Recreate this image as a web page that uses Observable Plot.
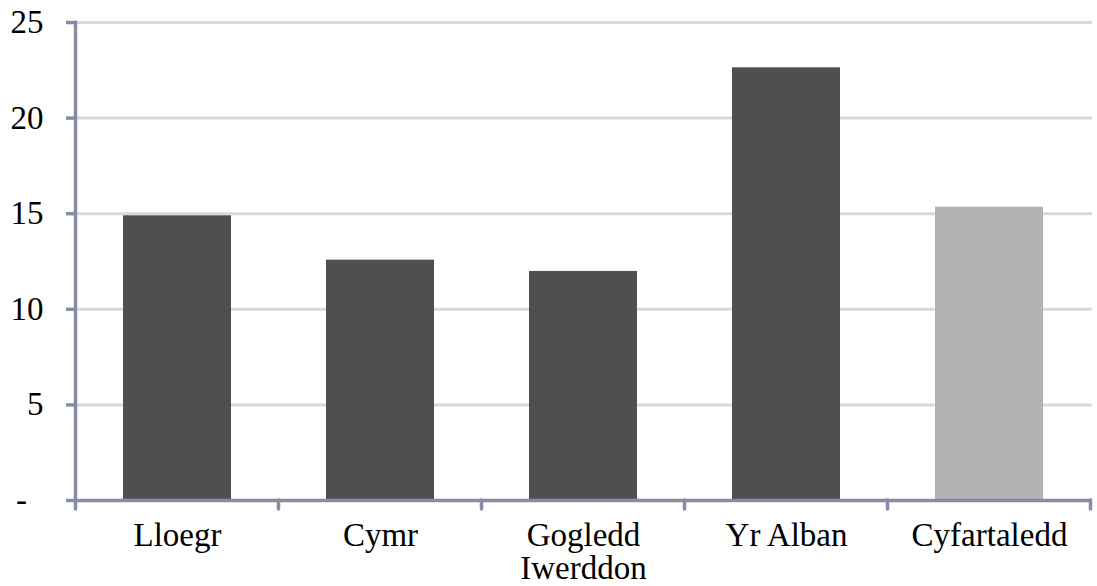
<!DOCTYPE html>
<html>
<head>
<meta charset="utf-8">
<script src="https://cdn.jsdelivr.net/npm/d3@7"></script>
<script src="https://cdn.jsdelivr.net/npm/@observablehq/plot@0.6"></script>
<style>
  html, body { margin: 0; padding: 0; background: #fff; }
  #chart svg { display: block; }
</style>
</head>
<body>
<div id="chart"></div>
<script>
const categories = ["Lloegr", "Cymr", "Gogledd\nIwerddon", "Yr Alban", "Cyfartaledd"];
const values = [14.89, 12.57, 11.98, 22.63, 15.34];
const highlight = [false, false, false, false, true];
const yTicks = [0, 5, 10, 15, 20, 25];

const data = categories.map((c, i) => ({cat: c, value: values[i], avg: highlight[i]}));

const axisColor = "#878ba3";
const font = "'Liberation Serif', 'Times New Roman', serif";

const chart = Plot.plot({
  width: 1097,
  height: 586,
  marginLeft: 74,
  marginRight: 5,
  marginTop: 22,
  marginBottom: 86,
  style: {fontFamily: font, fontSize: "33px", color: "#000", background: "#fff"},
  x: {domain: categories, paddingInner: 0.47, paddingOuter: 0.235, label: null},
  y: {domain: [0, 25], label: null},
  marks: [
    Plot.gridY(yTicks.filter(d => d > 0), {stroke: "#d9d9d9", strokeOpacity: 1, strokeWidth: 3}),
    Plot.barY(data, {x: "cat", y: "value", fill: d => d.avg ? "#b2b2b2" : "#4f4f4f"}),
    Plot.ruleY([0], {stroke: axisColor, strokeWidth: 3.5}),
    Plot.axisY({
      ticks: yTicks,
      tickFormat: d => d === 0 ? "-\u2007" : String(d),
      tickSize: 8,
      tickPadding: 23,
      stroke: axisColor,
      strokeWidth: 3.5,
      fontSize: 33
    }),
    Plot.axisX({
      tickSize: 0,
      tickPadding: 22,
      fontSize: 33,
      lineHeight: 1.0
    })
  ]
});

// Category boundary ticks and the left axis line, placed with the x and y scales
const xs = chart.scale("x");
const ys = chart.scale("y");
const gap = (xs.step - xs.bandwidth) / 2;
const bounds = categories.map(c => xs.apply(c) - gap);
bounds.push(xs.apply(categories[categories.length - 1]) + xs.bandwidth + gap);
const y0 = ys.apply(0), yTop = ys.apply(25);
const svg = d3.select(chart);
const g = svg.append("g").attr("stroke", axisColor).attr("stroke-width", 3.5).attr("stroke-linecap", "round");
g.selectAll("line.b").data(bounds).join("line")
  .attr("x1", d => d).attr("x2", d => d)
  .attr("y1", y0).attr("y2", y0 + 9);
g.append("line").attr("x1", bounds[0]).attr("x2", bounds[0]).attr("y1", yTop).attr("y2", y0);

document.getElementById("chart").appendChild(chart);
</script>
</body>
</html>
